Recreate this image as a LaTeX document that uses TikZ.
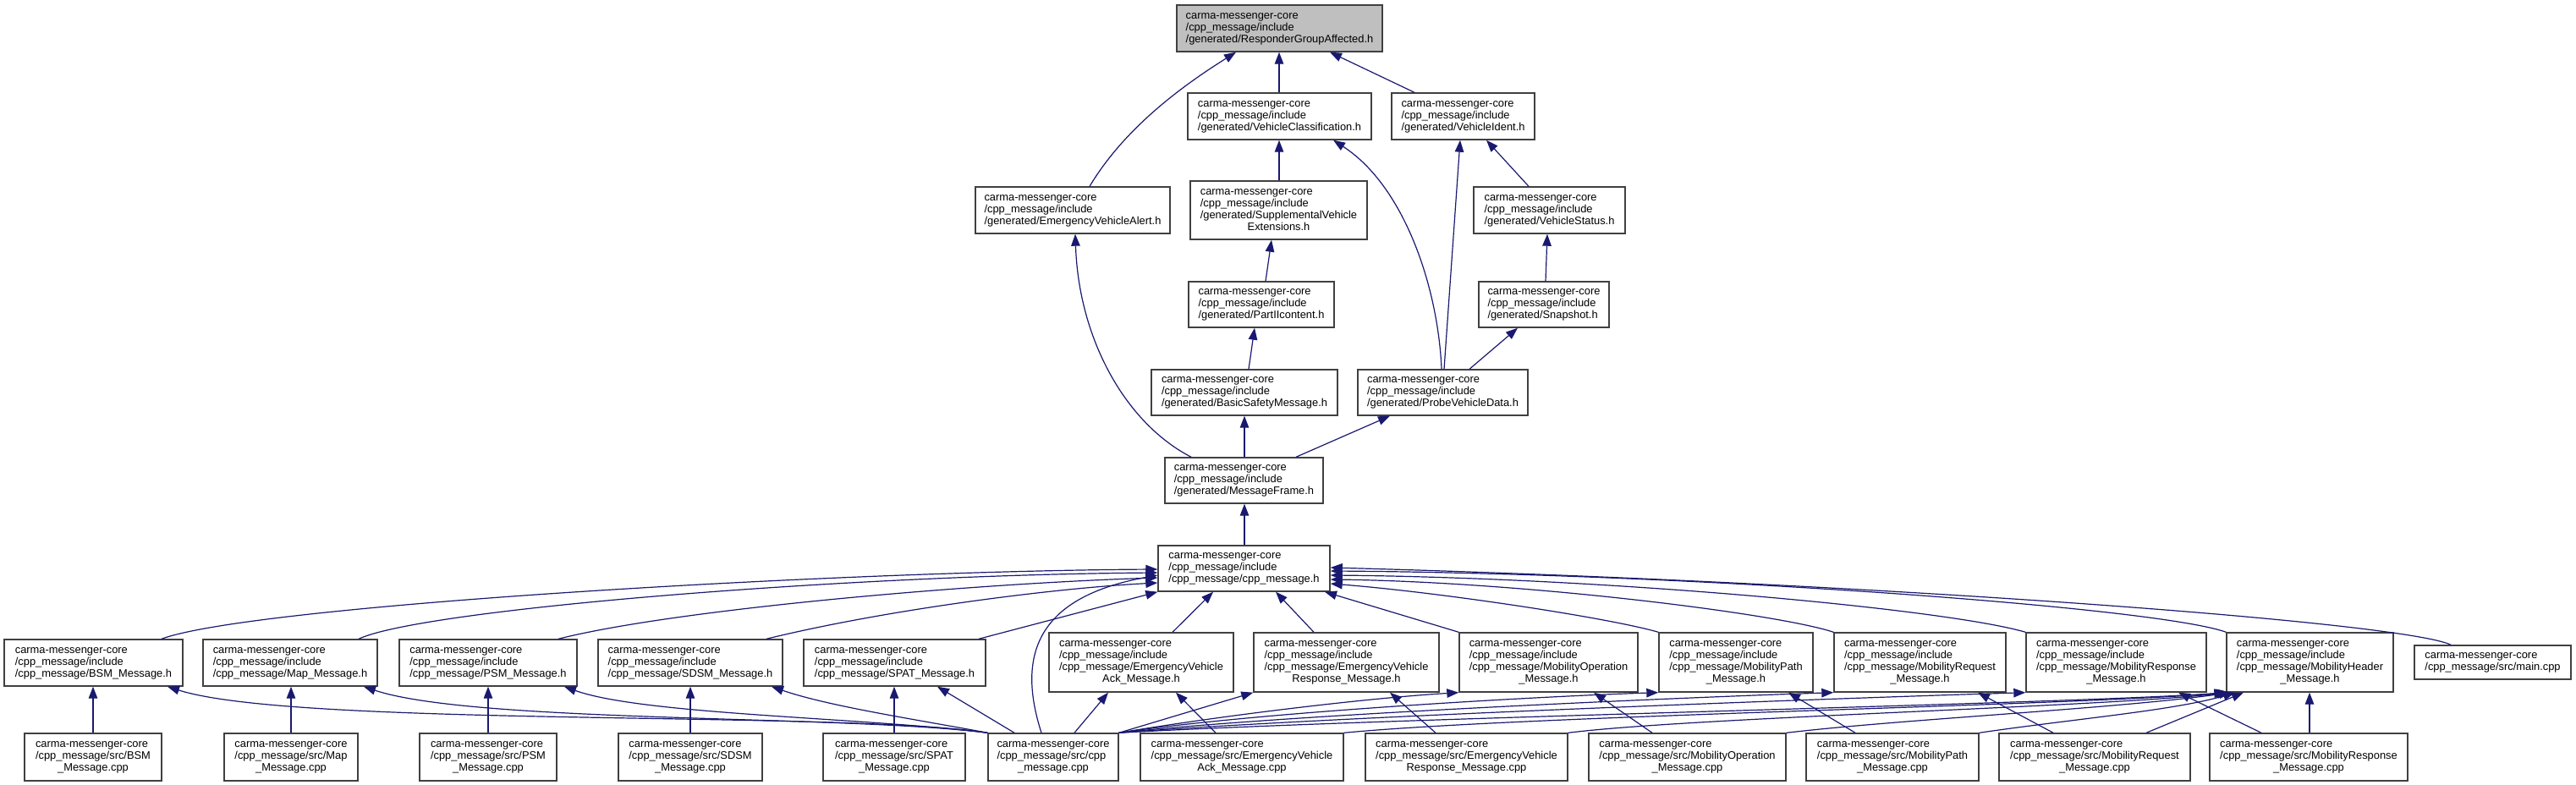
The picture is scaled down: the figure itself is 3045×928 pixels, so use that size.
\documentclass[tikz,border=0pt]{standalone}
\usepackage{fontspec}
\setmainfont{Liberation Sans}
\usetikzlibrary{arrows.meta}
\definecolor{edgec}{HTML}{191970}
\definecolor{rootfill}{HTML}{BFBFBF}
\definecolor{boxline}{HTML}{404040}
\newcommand\lc[1]{\multicolumn{1}{@{}c@{}}{#1}}
\newcommand\dxbox[7][]{%
  \node[dbox,#1,minimum width={#5pt-#3pt},minimum height={#6pt-#4pt}] (#2) at ({(#3+#5)/2},{(#4+#6)/2}) {\begin{tabular}{@{}l@{}}#7\end{tabular}};}
\begin{document}
\begin{tikzpicture}[x=1pt,y=-1pt,
  dbox/.style={draw=boxline,line width=1.4pt,fill=white,inner sep=0pt,font=\fontsize{12.87}{14}\selectfont,text=black},
  rootbox/.style={fill=rootfill},
  edge/.style={draw=edgec,line width=1.2pt,-{Triangle[length=14pt,width=10.5pt]}}]
\useasboundingbox (0,0) rectangle (3045,928);
\fill[white] (0,0) rectangle (3045,928);
% ---- upper part
\dxbox[rootbox]{root}{1391}{6}{1634}{61}{carma-messenger-core\\/cpp\_message/include\\/generated/ResponderGroupAffected.h}
\dxbox{VC}{1404}{110}{1621}{165}{carma-messenger-core\\/cpp\_message/include\\/generated/VehicleClassification.h}
\dxbox{VI}{1645}{110}{1814}{165}{carma-messenger-core\\/cpp\_message/include\\/generated/VehicleIdent.h}
\dxbox{EVA}{1153}{221}{1383}{276}{carma-messenger-core\\/cpp\_message/include\\/generated/EmergencyVehicleAlert.h}
\dxbox{SVE}{1407}{214}{1616}{283}{carma-messenger-core\\/cpp\_message/include\\/generated/SupplementalVehicle\\\lc{Extensions.h}}
\dxbox{VS}{1742}{221}{1921}{276}{carma-messenger-core\\/cpp\_message/include\\/generated/VehicleStatus.h}
\dxbox{P2}{1405}{333}{1577}{387}{carma-messenger-core\\/cpp\_message/include\\/generated/PartIIcontent.h}
\dxbox{SN}{1748}{333}{1902}{387}{carma-messenger-core\\/cpp\_message/include\\/generated/Snapshot.h}
\dxbox{BSMg}{1361}{437}{1581}{491}{carma-messenger-core\\/cpp\_message/include\\/generated/BasicSafetyMessage.h}
\dxbox{PVD}{1605}{437}{1806}{491}{carma-messenger-core\\/cpp\_message/include\\/generated/ProbeVehicleData.h}
\dxbox{MF}{1377}{541}{1564}{595}{carma-messenger-core\\/cpp\_message/include\\/generated/MessageFrame.h}
\dxbox{CM}{1369}{645}{1572}{699}{carma-messenger-core\\/cpp\_message/include\\/cpp\_message/cpp\_message.h}
% ---- header row
\dxbox{BSMh}{5}{756}{216}{811}{carma-messenger-core\\/cpp\_message/include\\/cpp\_message/BSM\_Message.h}
\dxbox{Maph}{240}{756}{446}{811}{carma-messenger-core\\/cpp\_message/include\\/cpp\_message/Map\_Message.h}
\dxbox{PSMh}{472}{756}{682}{811}{carma-messenger-core\\/cpp\_message/include\\/cpp\_message/PSM\_Message.h}
\dxbox{SDSMh}{707}{756}{925}{811}{carma-messenger-core\\/cpp\_message/include\\/cpp\_message/SDSM\_Message.h}
\dxbox{SPATh}{950}{756}{1165}{811}{carma-messenger-core\\/cpp\_message/include\\/cpp\_message/SPAT\_Message.h}
\dxbox{EVAh}{1240}{748}{1458}{818}{carma-messenger-core\\/cpp\_message/include\\/cpp\_message/EmergencyVehicle\\\lc{Ack\_Message.h}}
\dxbox{EVRh}{1482}{748}{1701}{818}{carma-messenger-core\\/cpp\_message/include\\/cpp\_message/EmergencyVehicle\\\lc{Response\_Message.h}}
\dxbox{MOh}{1725}{748}{1936}{818}{carma-messenger-core\\/cpp\_message/include\\/cpp\_message/MobilityOperation\\\lc{\_Message.h}}
\dxbox{MPh}{1961}{748}{2143}{818}{carma-messenger-core\\/cpp\_message/include\\/cpp\_message/MobilityPath\\\lc{\_Message.h}}
\dxbox{MRqh}{2168}{748}{2371}{818}{carma-messenger-core\\/cpp\_message/include\\/cpp\_message/MobilityRequest\\\lc{\_Message.h}}
\dxbox{MRsh}{2395}{748}{2608}{818}{carma-messenger-core\\/cpp\_message/include\\/cpp\_message/MobilityResponse\\\lc{\_Message.h}}
\dxbox{MHh}{2632}{748}{2829}{818}{carma-messenger-core\\/cpp\_message/include\\/cpp\_message/MobilityHeader\\\lc{\_Message.h}}
\dxbox{main}{2854}{763}{3039}{803}{carma-messenger-core\\/cpp\_message/src/main.cpp}
% ---- source row
\dxbox{BSMc}{29}{867}{191}{923}{carma-messenger-core\\/cpp\_message/src/BSM\\\lc{\_Message.cpp}}
\dxbox{Mapc}{265}{867}{423}{923}{carma-messenger-core\\/cpp\_message/src/Map\\\lc{\_Message.cpp}}
\dxbox{PSMc}{496}{867}{658}{923}{carma-messenger-core\\/cpp\_message/src/PSM\\\lc{\_Message.cpp}}
\dxbox{SDSMc}{731}{867}{901}{923}{carma-messenger-core\\/cpp\_message/src/SDSM\\\lc{\_Message.cpp}}
\dxbox{SPATc}{973}{867}{1141}{923}{carma-messenger-core\\/cpp\_message/src/SPAT\\\lc{\_Message.cpp}}
\dxbox{CMc}{1168}{867}{1322}{923}{carma-messenger-core\\/cpp\_message/src/cpp\\\lc{\_message.cpp}}
\dxbox{EVAc}{1348}{867}{1588}{923}{carma-messenger-core\\/cpp\_message/src/EmergencyVehicle\\\lc{Ack\_Message.cpp}}
\dxbox{EVRc}{1614}{867}{1853}{923}{carma-messenger-core\\/cpp\_message/src/EmergencyVehicle\\\lc{Response\_Message.cpp}}
\dxbox{MOc}{1878}{867}{2111}{923}{carma-messenger-core\\/cpp\_message/src/MobilityOperation\\\lc{\_Message.cpp}}
\dxbox{MPc}{2135}{867}{2339}{923}{carma-messenger-core\\/cpp\_message/src/MobilityPath\\\lc{\_Message.cpp}}
\dxbox{MRqc}{2363}{867}{2589}{923}{carma-messenger-core\\/cpp\_message/src/MobilityRequest\\\lc{\_Message.cpp}}
\dxbox{MRsc}{2612}{867}{2846}{923}{carma-messenger-core\\/cpp\_message/src/MobilityResponse\\\lc{\_Message.cpp}}
% ---- edges, upper part
\draw[edge] (EVA.north -| 1288,0) .. controls (1330,150) and (1400,100) .. (root.south -| 1461,0);
\draw[edge] (VC.north -| 1512,0) -- (root.south -| 1512,0);
\draw[edge] (VI.north -| 1672,0) -- (root.south -| 1572,0);
\draw[edge] (SVE.north -| 1512,0) -- (VC.south -| 1512,0);
\draw[edge] (PVD.north -| 1704,0) .. controls (1700,340) and (1660,220) .. (VC.south -| 1576,0);
\draw[edge] (PVD.north -| 1707,0) -- (VI.south -| 1726,0);
\draw[edge] (VS.north -| 1807,0) -- (VI.south -| 1757,0);
\draw[edge] (P2.north -| 1496,0) -- (SVE.south -| 1503,0);
\draw[edge] (SN.north -| 1827,0) -- (VS.south -| 1829,0);
\draw[edge] (BSMg.north -| 1476,0) -- (P2.south -| 1483,0);
\draw[edge] (PVD.north -| 1737,0) -- (SN.south -| 1794,0);
\draw[edge] (MF.north -| 1408,0) .. controls (1330,500) and (1275,400) .. (EVA.south -| 1271,0);
\draw[edge] (MF.north -| 1471,0) -- (BSMg.south -| 1471,0);
\draw[edge] (MF.north -| 1532,0) -- (PVD.south -| 1643,0);
\draw[edge] (CM.north -| 1471,0) -- (MF.south -| 1471,0);
% ---- headers to cpp_message.h
\draw[edge] (BSMh.north -| 191,0) .. controls (300,715) and (1000,675) .. (CM.west |- 0,673);
\draw[edge] (Maph.north -| 424,0) .. controls (500,720) and (1000,680) .. (CM.west |- 0,677);
\draw[edge] (PSMh.north -| 660,0) .. controls (800,720) and (1150,690) .. (CM.west |- 0,683);
\draw[edge] (SDSMh.north -| 906,0) .. controls (1050,720) and (1250,695) .. (CM.west |- 0,689);
\draw[edge] (SPATh.north -| 1157,0) -- (CM.south west);
\draw[edge] (CMc.north -| 1231,0) .. controls (1200,770) and (1230,705) .. (CM.west |- 0,680);
\draw[edge] (EVAh.north -| 1386,0) -- (CM.south -| 1434,0);
\draw[edge] (EVRh.north -| 1553,0) -- (CM.south -| 1508,0);
\draw[edge] (MOh.north west) -- (CM.south -| 1566,0);
\draw[edge] (MPh.north west) .. controls (1900,730) and (1700,700) .. (CM.east |- 0,690);
\draw[edge] (MRqh.north west) .. controls (2100,725) and (1800,688) .. (CM.east |- 0,685);
\draw[edge] (MRsh.north west) .. controls (2300,720) and (1900,683) .. (CM.east |- 0,680);
\draw[edge] (MHh.north west) .. controls (2550,718) and (2000,678) .. (CM.east |- 0,675);
\draw[edge] (main.north -| 2897,0) .. controls (2840,735) and (2200,688) .. (CM.east |- 0,671);
% ---- sources to own headers
\draw[edge] (BSMc.north -| 110,0) -- (BSMh.south -| 110,0);
\draw[edge] (Mapc.north -| 344,0) -- (Maph.south -| 344,0);
\draw[edge] (PSMc.north -| 577,0) -- (PSMh.south -| 577,0);
\draw[edge] (SDSMc.north -| 816,0) -- (SDSMh.south -| 816,0);
\draw[edge] (SPATc.north -| 1057,0) -- (SPATh.south -| 1057,0);
\draw[edge] (EVAc.north -| 1437,0) -- (EVAh.south -| 1390,0);
\draw[edge] (EVRc.north -| 1697,0) -- (EVRh.south -| 1643,0);
\draw[edge] (MOc.north -| 1953,0) -- (MOh.south -| 1884,0);
\draw[edge] (MPc.north -| 2193,0) -- (MPh.south -| 2114,0);
\draw[edge] (MRqc.north -| 2427,0) -- (MRqh.south -| 2338,0);
\draw[edge] (MRsc.north -| 2673,0) -- (MRsh.south -| 2575,0);
% ---- cpp_message.cpp to headers
\draw[edge] (CMc.north west) .. controls (1000,840) and (350,860) .. (BSMh.south -| 198,0);
\draw[edge] (CMc.north west) .. controls (1000,845) and (560,855) .. (Maph.south -| 430,0);
\draw[edge] (CMc.north west) .. controls (1020,848) and (760,845) .. (PSMh.south -| 667,0);
\draw[edge] (CMc.north west) .. controls (1080,850) and (980,835) .. (SDSMh.south -| 912,0);
\draw[edge] (CMc.north -| 1199,0) -- (SPATh.south -| 1108,0);
\draw[edge] (CMc.north -| 1270,0) -- (EVAh.south -| 1310,0);
\draw[edge] (CMc.north east) -- (EVRh.south west);
\draw[edge] (CMc.north east) .. controls (1450,845) and (1620,825) .. (MOh.south west);
\draw[edge] (CMc.north east) .. controls (1500,840) and (1850,822) .. (MPh.south west);
\draw[edge] (CMc.north east) .. controls (1550,842) and (2060,822) .. (MRqh.south west);
\draw[edge] (CMc.north east) .. controls (1600,845) and (2280,822) .. (MRsh.south west);
\draw[edge] (CMc.north east) .. controls (1650,848) and (2450,832) .. (MHh.south west);
% ---- sources to MobilityHeader
\draw[edge] (EVAc.north east) .. controls (1800,846) and (2450,834) .. ([xshift=2pt]MHh.south west);
\draw[edge] (EVRc.north east) .. controls (2000,848) and (2480,836) .. ([xshift=4pt]MHh.south west);
\draw[edge] (MOc.north east) .. controls (2250,850) and (2500,838) .. ([xshift=6pt]MHh.south west);
\draw[edge] (MPc.north east) .. controls (2450,850) and (2570,840) .. (MHh.south -| 2642,0);
\draw[edge] (MRqc.north -| 2537,0) -- (MHh.south -| 2652,0);
\draw[edge] (MRsc.north -| 2730,0) -- (MHh.south -| 2730,0);
\end{tikzpicture}
\end{document}
